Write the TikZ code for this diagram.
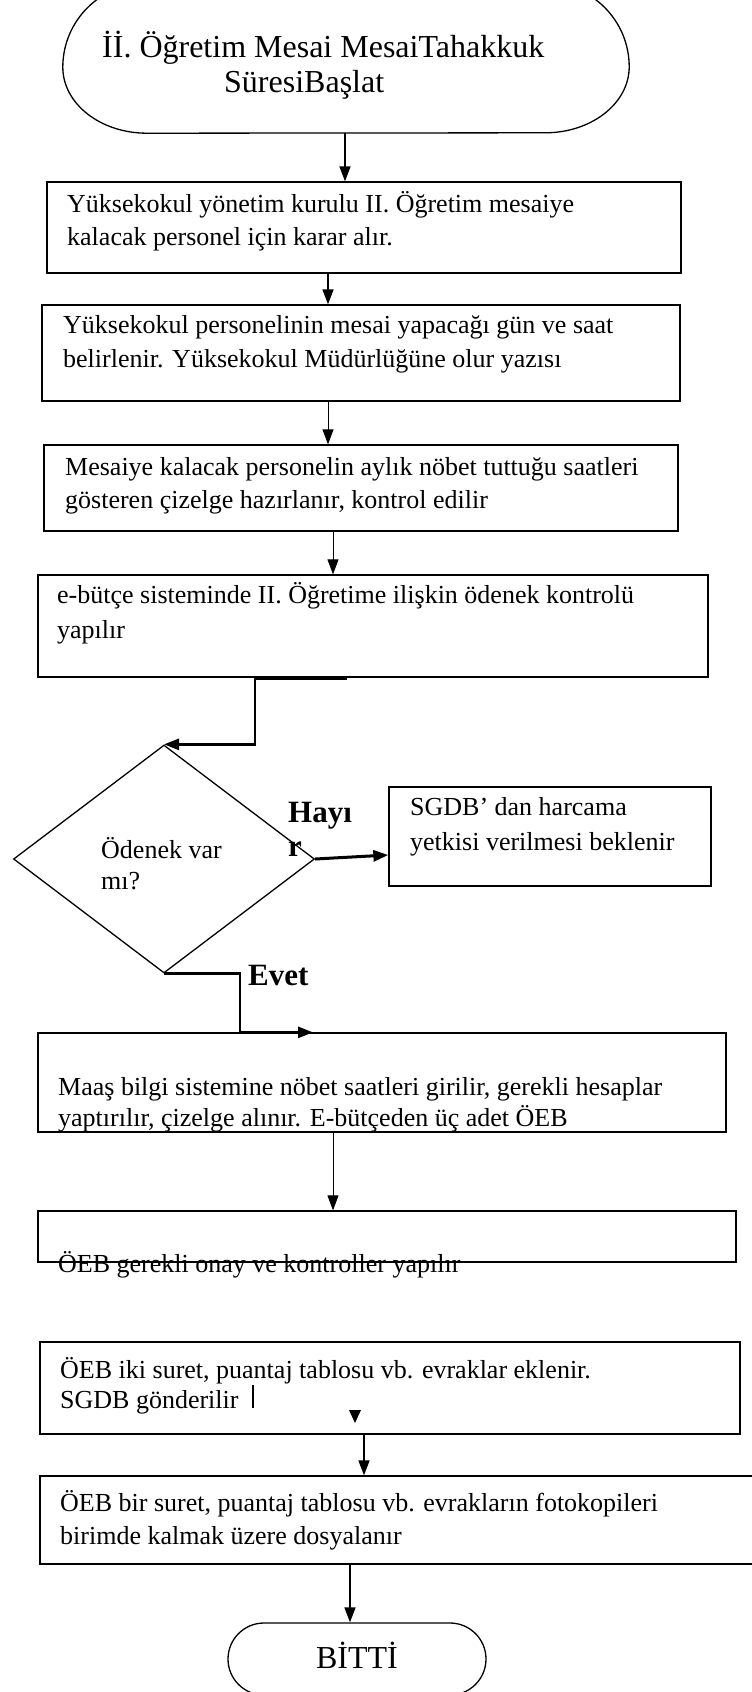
\documentclass[tikz,border=0pt]{standalone}
\usepackage{fontspec}
\setmainfont{Liberation Serif}
\usetikzlibrary{arrows.meta,shapes.geometric,shapes.misc,calc}
\begin{document}
\begin{tikzpicture}[x=1pt,y=1pt,
  box/.style={draw, line width=1.3pt, inner sep=0pt},
  txt/.style={anchor=base west, inner sep=0pt, font=\fontsize{26}{34}\selectfont},
  bigtxt/.style={anchor=base west, inner sep=0pt, font=\fontsize{32}{35}\selectfont},
  lbl/.style={anchor=base west, inner sep=0pt, font=\fontsize{31}{34}\selectfont\bfseries},
  arr/.style={-{Triangle[length=15pt,width=11pt]}},
  thin/.style={line width=0.9pt},
  mid/.style={line width=1.6pt},
  thick/.style={line width=2.6pt}]
\useasboundingbox (0,0) rectangle (752,-1692);
\clip (0,0) rectangle (752,-1692);
\fill[white] (0,0) rectangle (752,-1692);

% start terminal
\node[inner sep=0pt, minimum width=566, minimum height=150] (start) at (346,-58) {};
\draw[line width=1.3pt] ($(start.north west)+(84,0)$) -- ($(start.north east)+(-84,0)$)
  arc[start angle=90, end angle=0, x radius=84pt, y radius=84pt]
  arc[start angle=0, end angle=-90, x radius=84pt, y radius=66pt]
  -- ($(start.south west)+(84,0)$)
  arc[start angle=270, end angle=180, x radius=84pt, y radius=66pt]
  arc[start angle=180, end angle=90, x radius=84pt, y radius=84pt] -- cycle;
\node[bigtxt] (st1) at (102,-57) {İİ. Öğretim Mesai MesaiTahakkuk};
\node[bigtxt] (st2) at (224,-92) {SüresiBaşlat};

% boxes
\node[box, minimum width=634, minimum height=91] (b1) at (364,-227.5) {};
\node[txt] (t1a) at (67,-212) {Yüksekokul yönetim kurulu II. Öğretim mesaiye};
\node[txt] (t1b) at (67,-245) {kalacak personel için karar alır.};

\node[box, minimum width=638, minimum height=96] (b2) at (361,-353) {};
\node[txt] (t2a) at (63,-333) {Yüksekokul personelinin mesai yapacağı gün ve saat};
\node[txt] (t2b) at (63,-367) {belirlenir. Yüksekokul Müdürlüğüne olur yazısı};

\node[box, minimum width=634, minimum height=86] (b3) at (361,-488) {};
\node[txt] (t3a) at (65,-475) {Mesaiye kalacak personelin aylık nöbet tuttuğu saatleri};
\node[txt] (t3b) at (65,-508) {gösteren çizelge hazırlanır, kontrol edilir};

\node[box, minimum width=670, minimum height=102] (b4) at (373,-626) {};
\node[txt] (t4a) at (57,-603) {e-bütçe sisteminde II. Öğretime ilişkin ödenek kontrolü};
\node[txt] (t4b) at (57,-638) {yapılır};

\node[draw, diamond, line width=1.3pt, inner sep=0pt, minimum width=301, minimum height=228] (dia) at (164,-859) {};
\node[txt] (dt1) at (101,-858) {Ödenek var};
\node[txt] (dt2) at (101,-889) {mı?};

\node[box, minimum width=322, minimum height=99] (sg) at (550,-836.5) {};
\node[txt] (sga) at (410,-815) {SGDB’ dan harcama};
\node[txt] (sgb) at (410,-850) {yetkisi verilmesi beklenir};

\node[lbl] (hay1) at (288,-822) {Hayı};
\node[lbl] (hay2) at (288,-856) {r};
\node[lbl] (evet) at (248,-985) {Evet};

\node[box, minimum width=688, minimum height=99] (b5) at (382,-1082.5) {};
\node[txt] (t5a) at (58,-1095) {Maaş bilgi sistemine nöbet saatleri girilir, gerekli hesaplar};
\node[txt] (t5b) at (58,-1126) {yaptırılır, çizelge alınır. E-bütçeden üç adet ÖEB};

\node[box, minimum width=698, minimum height=51] (b6) at (387,-1236.5) {};
\node[txt] (t6a) at (58,-1272) {ÖEB gerekli onay ve kontroller yapılır};

\node[box, minimum width=700, minimum height=92] (b7) at (390,-1388) {};
\node[txt] (t7a) at (60,-1378) {ÖEB iki suret, puantaj tablosu vb. evraklar eklenir.};
\node[txt] (t7b) at (60,-1408) {SGDB gönderilir};
\draw[line width=1.3pt] (253,-1385) -- (253,-1408);
\fill (349,-1410) -- (361,-1410) -- (355,-1423) -- cycle;

\node[box, minimum width=720, minimum height=88] (b8) at (400,-1520) {};
\node[txt] (t8a) at (60,-1511) {ÖEB bir suret, puantaj tablosu vb. evrakların fotokopileri};
\node[txt] (t8b) at (60,-1544) {birimde kalmak üzere dosyalanır};

\node[draw, rounded rectangle, line width=1.3pt, inner sep=0pt, minimum width=258, minimum height=72] (end) at (357,-1659) {};
\node[anchor=base, inner sep=0pt, font=\fontsize{32}{35}\selectfont] (endt) at (357,-1668) {BİTTİ};

% column coordinates
\coordinate (k1) at (345,0);
\coordinate (k2) at (328,0);
\coordinate (k4) at (333,0);
\coordinate (kd) at (255,0);
\coordinate (kd2) at (347,0);
\coordinate (ke) at (240,0);
\coordinate (ke2) at (313,0);
\coordinate (k6) at (333,0);
\coordinate (k7) at (364,0);
\coordinate (k8) at (350,0);

% connectors
\draw[arr, mid] (start.south -| k1) -- (b1.north -| k1);
\draw[arr, mid] (b1.south -| k2) -- (b2.north -| k2);
\draw[arr, thin] (b2.south -| k2) -- (b3.north -| k2);
\draw[arr, thin] (b3.south -| k4) -- (b4.north -| k4);
\draw[line width=4pt] (b4.south -| kd) -- (b4.south -| kd2);
\draw[arr, thick] (b4.south -| kd) |- (dia.north);
\draw[arr, line width=3pt] (dia.east) -- ($(sg.west)+(0,-18.5)$);
\draw[arr, thick] (dia.south) -| (ke |- b5.north) -- (b5.north -| ke2);
\draw[arr, thin] (b5.south -| k6) -- (b6.north -| k6);
\draw[arr, mid] (b7.south -| k7) -- (b8.north -| k7);
\draw[arr, mid] (b8.south -| k8) -- (end.north -| k8);
\end{tikzpicture}
\end{document}
